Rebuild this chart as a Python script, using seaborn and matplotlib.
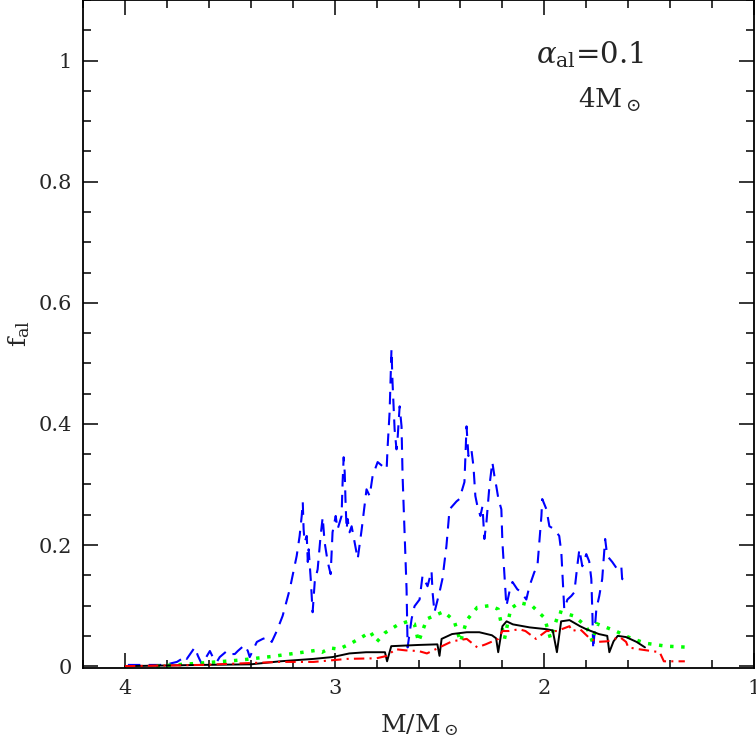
import matplotlib
matplotlib.use("Agg")
import matplotlib.pyplot as plt
import matplotlib.ticker as ticker
import seaborn as sns
import pandas as pd

# mass (M/Msun) and f_al for the four runs
blue_x = [3.986, 3.833, 3.8, 3.752, 3.729, 3.714, 3.705, 3.667, 3.652, 3.633, 3.595, 3.581,
          3.562, 3.548, 3.514, 3.5, 3.476, 3.462, 3.429, 3.414, 3.405, 3.371, 3.343, 3.319,
          3.3, 3.276, 3.248, 3.214, 3.181, 3.167, 3.157, 3.152, 3.148, 3.143, 3.133, 3.130,
          3.128, 3.124, 3.114, 3.105, 3.095, 3.081, 3.067, 3.057, 3.048, 3.033, 3.019, 3.01,
          2.995, 2.986, 2.967, 2.962, 2.957, 2.952, 2.948, 2.943, 2.938, 2.929, 2.919, 2.905,
          2.890, 2.871, 2.848, 2.833, 2.819, 2.795, 2.771, 2.752, 2.748, 2.738, 2.729, 2.724,
          2.719, 2.714, 2.705, 2.7, 2.69, 2.681, 2.676, 2.667, 2.657, 2.652, 2.633, 2.619,
          2.595, 2.581, 2.557, 2.538, 2.533, 2.524, 2.5, 2.486, 2.467, 2.452, 2.419, 2.405,
          2.381, 2.371, 2.362, 2.348, 2.338, 2.329, 2.319, 2.305, 2.295, 2.286, 2.276, 2.262,
          2.248, 2.238, 2.229, 2.219, 2.205, 2.2, 2.181, 2.167, 2.152, 2.129, 2.110, 2.086,
          2.071, 2.048, 2.033, 2.014, 2.01, 1.99, 1.976, 1.952, 1.929, 1.919, 1.905, 1.89,
          1.871, 1.857, 1.843, 1.833, 1.819, 1.8, 1.786, 1.776, 1.771, 1.767, 1.752, 1.738,
          1.724, 1.71, 1.7, 1.676, 1.652, 1.633, 1.629, 1.610, 1.595]
blue_y = [0.002, 0.002, 0.003, 0.007, 0.012, 0.017, 0.012, 0.031, 0.017, 0.003, 0.025, 0.015,
          0.007, 0.015, 0.025, 0.02, 0.02, 0.025, 0.035, 0.025, 0.015, 0.04, 0.045, 0.048,
          0.04, 0.058, 0.083, 0.127, 0.182, 0.215, 0.248, 0.271, 0.226, 0.205, 0.215, 0.188,
          0.172, 0.193, 0.144, 0.089, 0.139, 0.16, 0.215, 0.246, 0.205, 0.172, 0.152, 0.221,
          0.248, 0.226, 0.248, 0.304, 0.345, 0.32, 0.271, 0.226, 0.243, 0.221, 0.231, 0.205,
          0.177, 0.226, 0.292, 0.281, 0.314, 0.337, 0.33, 0.325, 0.358, 0.419, 0.523, 0.469,
          0.429, 0.391, 0.358, 0.375, 0.429, 0.396, 0.314, 0.226, 0.127, 0.031, 0.078, 0.099,
          0.11, 0.149, 0.132, 0.157, 0.122, 0.089, 0.122, 0.144, 0.198, 0.259, 0.272, 0.276,
          0.304, 0.396, 0.347, 0.358, 0.33, 0.281, 0.264, 0.248, 0.264, 0.21, 0.238, 0.297,
          0.337, 0.314, 0.297, 0.276, 0.259, 0.205, 0.099, 0.122, 0.139, 0.127, 0.122, 0.11,
          0.132, 0.155, 0.165, 0.248, 0.276, 0.259, 0.231, 0.226, 0.215, 0.188, 0.094, 0.11,
          0.116, 0.122, 0.165, 0.193, 0.165, 0.185, 0.173, 0.144, 0.089, 0.028, 0.094, 0.116,
          0.144, 0.21, 0.182, 0.172, 0.16, 0.165, 0.144, 0.14, 0.135]

green_x = [3.85, 3.64, 3.45, 3.3, 3.15, 3.09, 3.06, 3.02, 2.98, 2.92, 2.86, 2.83, 2.8, 2.76,
           2.7, 2.65, 2.62, 2.6, 2.56, 2.48, 2.43, 2.4, 2.37, 2.32, 2.26, 2.22, 2.19, 2.16,
           2.12, 2.06, 2.0, 1.97, 1.93, 1.86, 1.8, 1.77, 1.75, 1.66, 1.6, 1.52, 1.42, 1.3]
green_y = [0.0, 0.005, 0.01, 0.016, 0.023, 0.026, 0.023, 0.03, 0.028, 0.038, 0.05, 0.057,
           0.04, 0.055, 0.068, 0.074, 0.07, 0.04, 0.078, 0.09, 0.075, 0.04, 0.076, 0.097,
           0.1, 0.094, 0.045, 0.095, 0.105, 0.1, 0.08, 0.045, 0.09, 0.083, 0.066, 0.04, 0.07,
           0.058, 0.048, 0.038, 0.033, 0.031]

black_x = [4.0, 3.64, 3.4, 3.26, 3.1, 3.01, 2.93, 2.85, 2.76, 2.75, 2.73, 2.6, 2.51, 2.5,
           2.49, 2.44, 2.37, 2.31, 2.25, 2.23, 2.22, 2.2, 2.18, 2.15, 2.07, 1.99, 1.96, 1.94,
           1.92, 1.88, 1.83, 1.8, 1.74, 1.7, 1.69, 1.67, 1.65, 1.61, 1.56, 1.52]
black_y = [0.0, 0.002, 0.003, 0.008, 0.012, 0.015, 0.021, 0.023, 0.023, 0.008, 0.033, 0.035,
           0.036, 0.017, 0.045, 0.053, 0.056, 0.056, 0.051, 0.046, 0.023, 0.066, 0.074, 0.069,
           0.064, 0.061, 0.059, 0.023, 0.074, 0.076, 0.066, 0.061, 0.053, 0.05, 0.023, 0.041,
           0.05, 0.048, 0.04, 0.031]

red_x = [4.0, 3.64, 3.26, 3.1, 2.94, 2.8, 2.75, 2.71, 2.66, 2.6, 2.56, 2.5, 2.44, 2.37, 2.32,
         2.28, 2.22, 2.2, 2.17, 2.12, 2.09, 2.04, 1.99, 1.94, 1.88, 1.87, 1.83, 1.82, 1.79,
         1.75, 1.7, 1.64, 1.61, 1.6, 1.55, 1.49, 1.45, 1.43, 1.33]
red_y = [0.0, 0.002, 0.007, 0.007, 0.012, 0.013, 0.017, 0.028, 0.026, 0.025, 0.021, 0.031,
         0.041, 0.045, 0.031, 0.036, 0.045, 0.058, 0.058, 0.061, 0.058, 0.045, 0.058, 0.058,
         0.066, 0.058, 0.061, 0.058, 0.048, 0.04, 0.041, 0.048, 0.04, 0.031, 0.028, 0.025,
         0.023, 0.008, 0.008]

sns.set_style("ticks")
plt.rcParams["font.family"] = ["DejaVu Serif"]
plt.rcParams["mathtext.fontset"] = "dejavuserif"

fig = plt.figure(figsize=(7.56, 7.45), dpi=100)
ax = fig.add_axes([0.1098, 0.1034, 0.8876, 0.8966])

series = [
    (blue_x, blue_y, "#0000ff", (0, (6, 4)), 1.5),
    (green_x, green_y, "#00ff00", (0, (1, 2.2)), 2.5),
    (black_x, black_y, "black", "-", 1.4),
    (red_x, red_y, "#ff0000", (0, (5, 2.5, 1, 2.5)), 1.5),
]
for xs, ys, col, ls, lw in series:
    df = pd.DataFrame({"M": xs, "f": ys})
    sns.lineplot(data=df, x="M", y="f", sort=False, estimator=None, ax=ax,
                 color=col, linestyle=ls, linewidth=lw)

ax.set_xlim(4.2, 1.0)
ax.set_ylim(-0.003, 1.1)
ax.xaxis.set_major_locator(ticker.MultipleLocator(1))
ax.xaxis.set_minor_locator(ticker.MultipleLocator(0.2))
ax.yaxis.set_major_locator(ticker.MultipleLocator(0.2))
ax.yaxis.set_minor_locator(ticker.MultipleLocator(0.05))
ax.xaxis.set_major_formatter(ticker.FuncFormatter(lambda v, p: "%g" % round(v, 2)))
ax.yaxis.set_major_formatter(ticker.FuncFormatter(lambda v, p: "%g" % round(v, 2)))
ax.tick_params(which="both", direction="in", top=True, right=True, width=1.1, color="black")
ax.tick_params(which="major", length=11, labelsize=15, pad=8)
ax.tick_params(which="minor", length=5.5)
for s in ax.spines.values():
    s.set_linewidth(1.3)
    s.set_color("black")

ax.set_xlabel(r"M/M$_\odot$", fontsize=18, labelpad=10)
ax.set_ylabel(r"f$_{\mathregular{al}}$", fontsize=18, labelpad=5)
ax.text(0.756, 0.918, r"$\alpha_{\mathregular{al}}$=0.1", transform=ax.transAxes,
        ha="center", va="center", fontsize=21)
ax.text(0.785, 0.85, r"4M$_\odot$", transform=ax.transAxes,
        ha="center", va="center", fontsize=19)

fig.savefig("out.png", dpi=100)
